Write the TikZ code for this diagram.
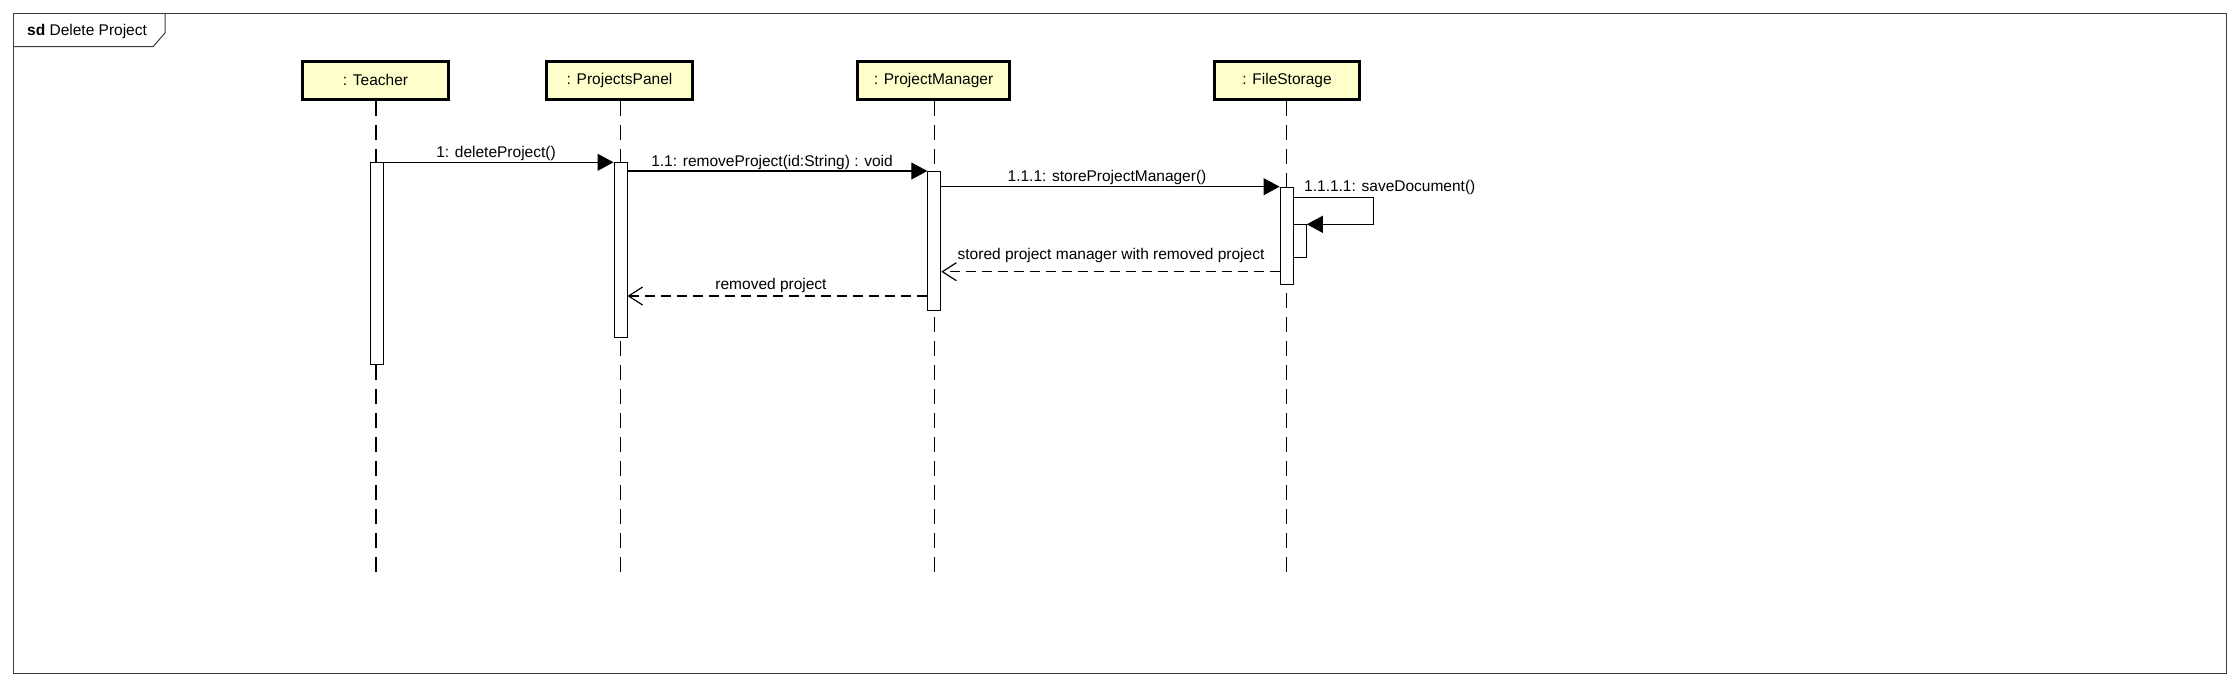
\documentclass[tikz,border=0pt]{standalone}
\usepackage{fontspec}
\setmainfont{Liberation Sans}
\usetikzlibrary{arrows.meta}
\definecolor{headfill}{RGB}{255,255,204}
\definecolor{framecol}{RGB}{60,60,60}
\begin{document}
\begin{tikzpicture}[x=1pt,y=-1pt,
  font=\fontsize{15.5}{18}\selectfont,
  head/.style={draw, line width=2.7pt, fill=headfill, minimum height=38pt, inner sep=0},
  act/.style={draw, line width=1pt, fill=white, minimum width=13pt, inner sep=0, anchor=north},
  life/.style={line width=1.7pt, dash pattern=on 15pt off 9pt},
  msg/.style={line width=1.2pt, -{Triangle[length=16pt,width=17pt]}},
  ret/.style={line width=1.2pt, dash pattern=on 10pt off 6pt, -{Straight Barb[length=14pt,width=18pt]}},
  lbl/.style={inner sep=0}]
\useasboundingbox (0,0) rectangle (2237,686);
% frame
\draw[framecol, line width=1pt] (13,13) rectangle (2226,673);
\draw[framecol, line width=1pt] (13,46.7) -- (153,46.7) -- (165,33) -- (165,13);
\node[lbl, anchor=west] (title) at (27,31) {\textbf{sd} Delete Project};
% heads
\node[head, minimum width=146pt] (teacher) at (375.5,80.4) {: Teacher};
\node[head, minimum width=146pt] (panel) at (619.5,80.4) {: ProjectsPanel};
\node[head, minimum width=152pt] (manager) at (933.5,80.4) {: ProjectManager};
\node[head, minimum width=145pt] (storage) at (1287,80.4) {: FileStorage};
% lifeline ends
\coordinate (teacherEnd) at (376,572.5);
\coordinate (panelEnd) at (620.5,572.5);
\coordinate (managerEnd) at (934.5,572.5);
\coordinate (storageEnd) at (1286.5,572.5);
\draw[life] (teacher.south -| teacherEnd) -- (teacherEnd);
\draw[life] (panel.south -| panelEnd) -- (panelEnd);
\draw[life] (manager.south -| managerEnd) -- (managerEnd);
\draw[life] (storage.south -| storageEnd) -- (storageEnd);
% activations
\node[act, minimum height=202pt] (tA) at (376.5,162.3) {};
\node[act, minimum height=175pt] (pA) at (620.5,162.3) {};
\node[act, minimum height=139pt] (mA) at (934.3,171) {};
\node[act, minimum height=97pt] (sA) at (1286.6,187.3) {};
\node[act, minimum height=33pt] (nA) at (1299.8,224.3) {};
% messages
\draw[msg] (tA.north east) -- (pA.north west);
\node[lbl] (l1) at (496,153) {1: deleteProject()};
\draw[msg] (pA.east |- mA.north) -- (mA.north west);
\node[lbl] (l2) at (772,162) {1.1: removeProject(id:String) : void};
\coordinate (m3) at (0,186.7);
\draw[msg] (mA.east |- m3) -- (sA.west |- m3);
\node[lbl] (l3) at (1107,177) {1.1.1: storeProjectManager()};
\coordinate (selfR) at (1373.3,197.3);
\draw[msg] (sA.east |- selfR) -- (selfR) -- (selfR |- nA.north) -- (nA.north east);
\node[lbl, anchor=west] (l4) at (1304,187) {1.1.1.1: saveDocument()};
\coordinate (r1) at (0,271.7);
\draw[ret] (sA.west |- r1) -- (mA.east |- r1);
\node[lbl] (l5) at (1111,255) {stored project manager with removed project};
\coordinate (r2) at (0,296);
\draw[ret] (mA.west |- r2) -- (pA.east |- r2);
\node[lbl] (l6) at (771,285) {removed project};
\end{tikzpicture}
\end{document}
